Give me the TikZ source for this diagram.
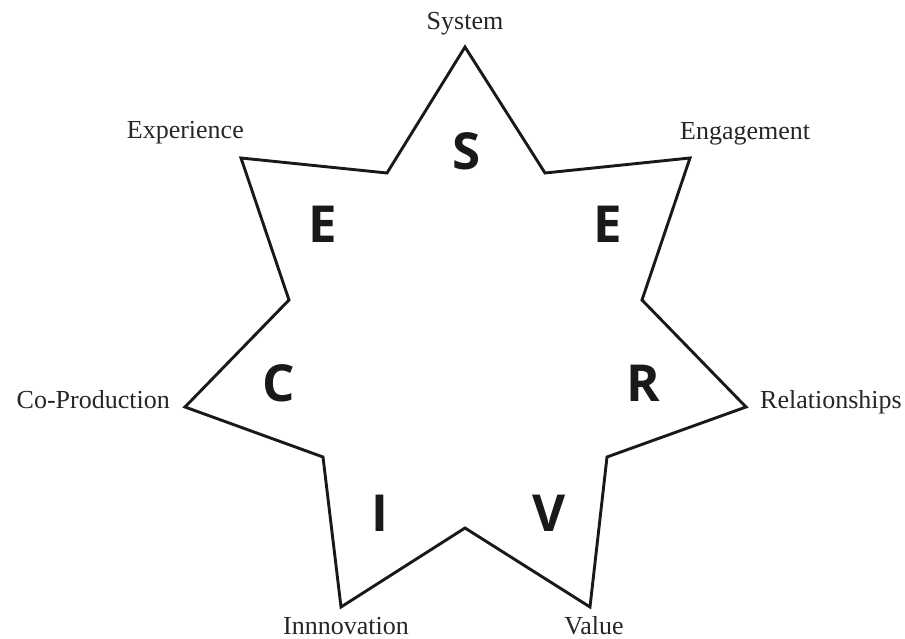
\documentclass[tikz,border=0pt]{standalone}
\usepackage{fontspec}
\setmainfont{Liberation Serif}
\newfontfamily\letterfont{Open Sans}[UprightFont=* Bold]
\begin{document}
\begin{tikzpicture}[x=1pt,y=-1pt,
  lbl/.style={inner sep=0pt,font=\fontsize{26}{30}\selectfont,text=black!85},
  letter/.style={inner sep=0pt,font=\letterfont\fontsize{51}{56}\selectfont,text=black!90},
  starline/.style={line width=2.9pt,line join=miter,draw=black!90}]
\useasboundingbox (0,0) rectangle (905,639);
% outer vertices
\coordinate (oS) at (465,47);
\coordinate (oEn) at (690,158);
\coordinate (oR) at (746,407);
\coordinate (oV) at (590,607);
\coordinate (oI) at (341,607);
\coordinate (oC) at (185,407);
\coordinate (oEx) at (241,158);
% inner vertices
\coordinate (i1) at (545,173);
\coordinate (i2) at (642,300);
\coordinate (i3) at (607,457);
\coordinate (i4) at (465,528);
\coordinate (i5) at (323,457);
\coordinate (i6) at (289,300);
\coordinate (i7) at (387,173);
\draw[starline] (oS) -- (i1) -- (oEn) -- (i2) -- (oR) -- (i3) -- (oV) -- (i4) -- (oI) -- (i5) -- (oC) -- (i6) -- (oEx) -- (i7) -- cycle;
% labels
\node[lbl,anchor=base] (tS) at (465,30) {System};
\node[lbl,anchor=base east] (tEx) at (244,139) {Experience};
\node[lbl,anchor=base west] (tEn) at (680,140) {Engagement};
\node[lbl,anchor=base east] (tC) at (170,408) {Co-Production};
\node[lbl,anchor=base west] (tR) at (760,408) {Relationships};
\node[lbl,anchor=base] (tI) at (346,634) {Innnovation};
\node[lbl,anchor=base] (tV) at (594,634) {Value};
% letters
\node[letter] (lS) at (467,151) {S};
\node[letter] (lE1) at (323,224) {E};
\node[letter] (lE2) at (608,224) {E};
\node[letter] (lC) at (279,383) {C};
\node[letter] (lR) at (643,383) {R};
\node[letter] (lI) at (380,513) {I};
\node[letter] (lV) at (549,513) {V};
\end{tikzpicture}
\end{document}
